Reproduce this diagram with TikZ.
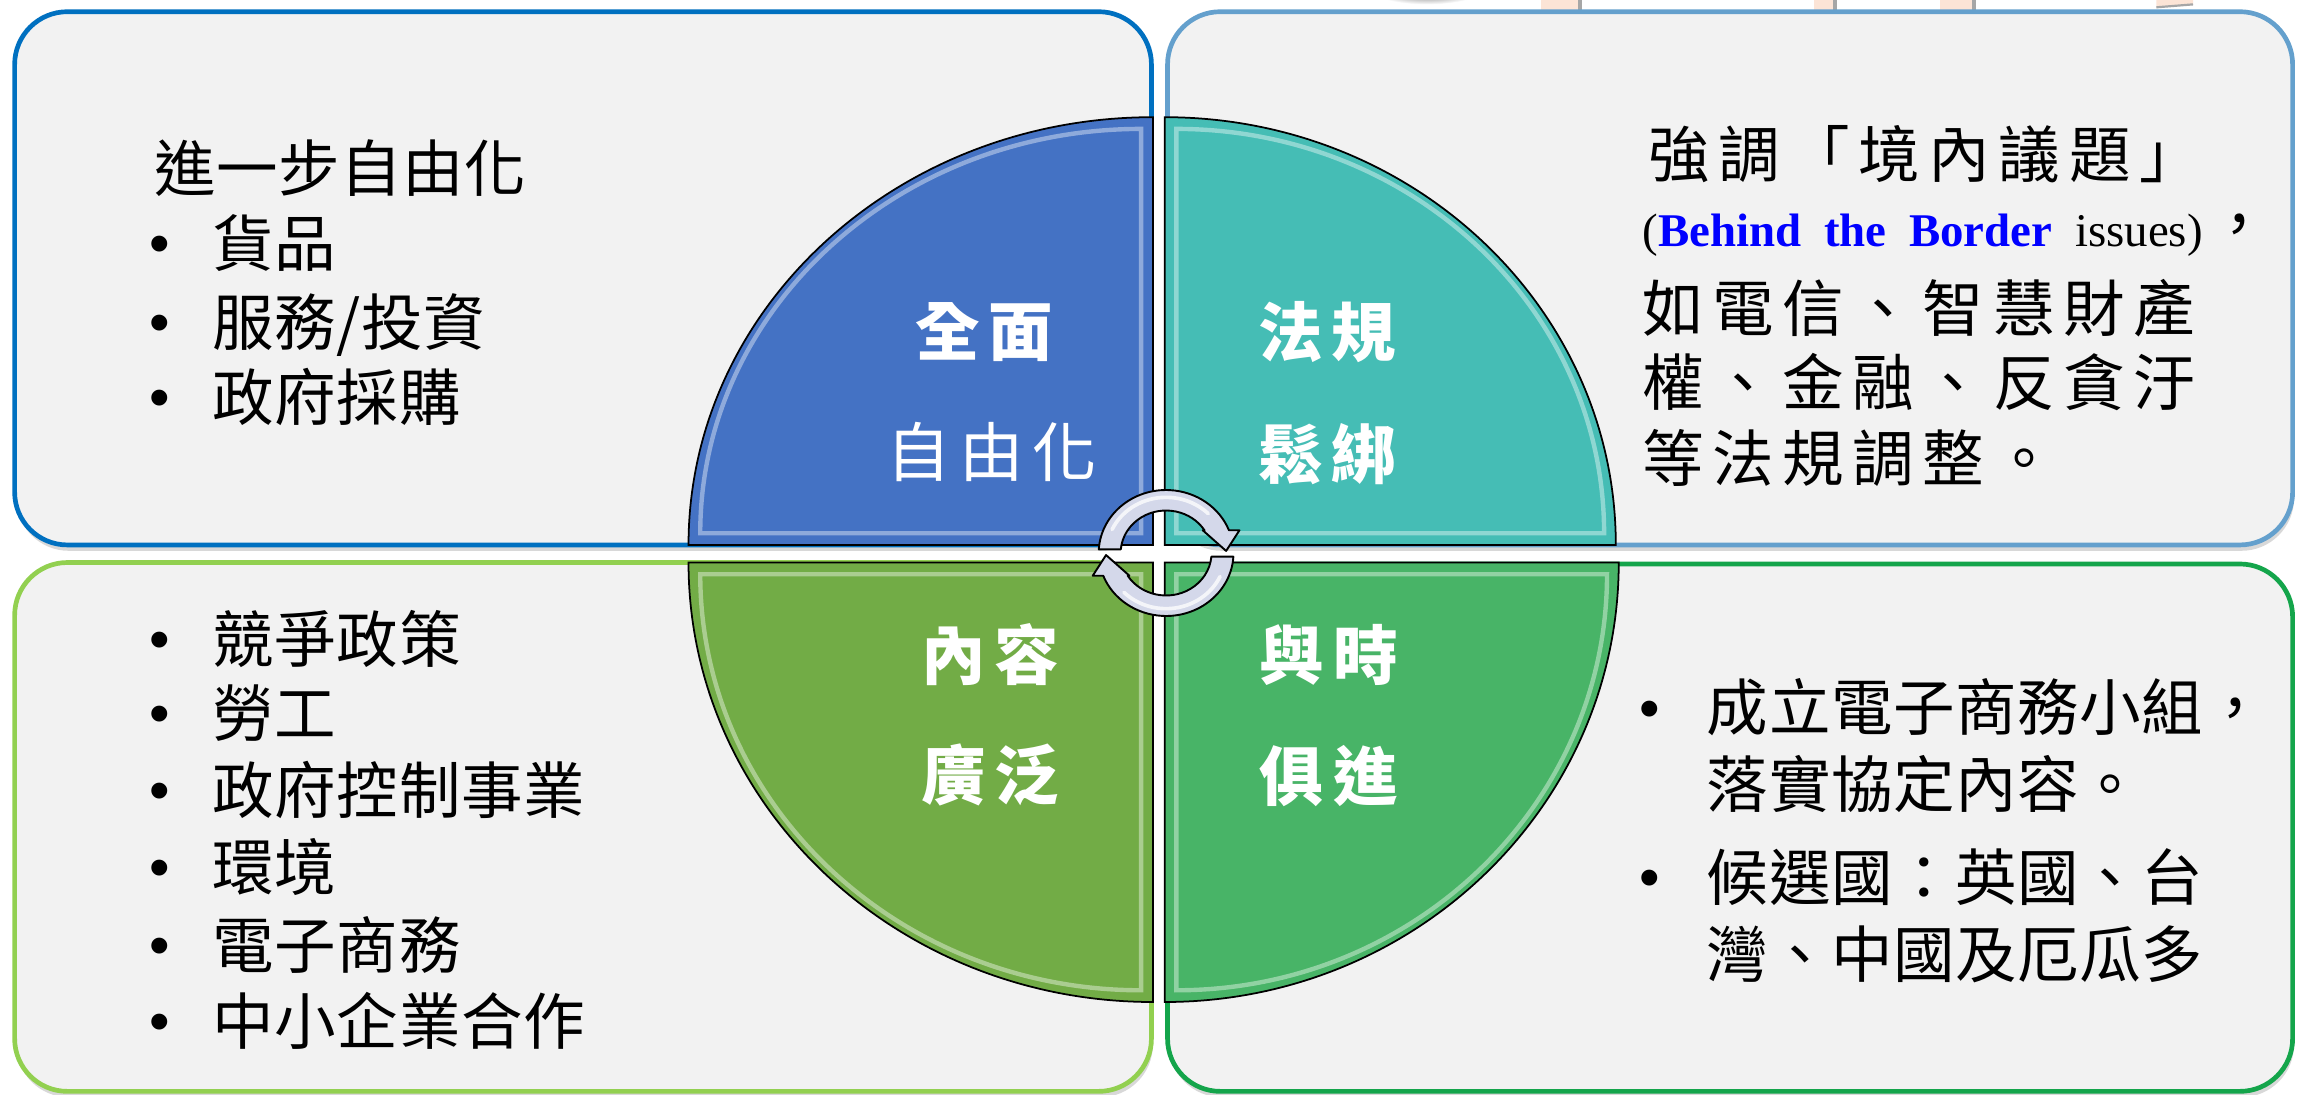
\documentclass[tikz,border=0pt]{standalone}
\usepackage{fontspec}
\setmainfont{Liberation Serif}
\newfontfamily\cjk{Noto Sans CJK TC}[LetterSpace=1]
\newfontfamily\cjkw{Noto Sans CJK TC}[LetterSpace=14]
\newfontfamily\cjklab{Noto Sans CJK TC}[LetterSpace=14]
\newfontfamily\bulfont{Liberation Sans}
\usetikzlibrary{shadows}
\definecolor{boxfill}{HTML}{F2F2F2}
\definecolor{tlb}{RGB}{0,112,192}
\definecolor{trb}{RGB}{100,160,205}
\definecolor{blb}{RGB}{146,208,80}
\definecolor{brb}{RGB}{20,165,75}
\definecolor{qblue}{RGB}{68,114,196}
\definecolor{qteal}{RGB}{69,189,181}
\definecolor{qolive}{RGB}{114,172,70}
\definecolor{qgreen}{RGB}{72,180,103}
\definecolor{ringfill}{RGB}{212,216,234}
\definecolor{blueword}{RGB}{0,0,255}
\definecolor{peach}{RGB}{252,228,214}
\begin{document}
\begin{tikzpicture}[x=1pt,y=1pt,
  box/.style={rounded corners=36pt, fill=boxfill, line width=3.2pt,
    drop shadow={shadow xshift=1pt, shadow yshift=-4pt, opacity=0.3}},
  quad/.style={draw=black, line width=1.2pt},
  bevel/.style={draw=white, line width=3pt, opacity=0.4},
  body/.style={anchor=base west, inner sep=0pt, font=\cjk\fontsize{42}{50}\selectfont},
  bodyw/.style={anchor=base west, inner sep=0pt, font=\cjkw\fontsize{42}{50}\selectfont},
  bul/.style={anchor=base, inner sep=0pt, font=\bulfont\fontsize{40}{48}\selectfont},
  lab/.style={anchor=center, inner sep=0pt, text=white, font=\cjklab\bfseries\fontsize{44}{50}\selectfont},
  labreg/.style={anchor=center, inner sep=0pt, text=white, font=\cjklab\fontsize{44}{50}\selectfont},
  ring/.style={fill=ringfill, draw=black, line width=1.3pt, line join=round},
  gloss/.style={draw=white, line width=2.5pt, opacity=0.75, line cap=round},
]
\useasboundingbox (0,0) rectangle (1568,747);
\fill[white] (0,0) rectangle (1568,747);

% fragments of a picture above
\shade[inner color=black!60, outer color=white] (974,753) ellipse [x radius=36pt, y radius=9pt];
\fill[peach] (1052,739) rectangle (1077,747);
\fill[black!35] (1077,739) rectangle (1080,747);
\fill[peach] (1238,739) rectangle (1251,747);
\fill[black!35] (1251,739) rectangle (1254,747);
\fill[peach] (1324,739) rectangle (1346,747);
\fill[black!35] (1346,739) rectangle (1349,747);
\fill[peach] (1472,742) -- (1497,744) -- (1497,747) -- (1472,747) -- cycle;
\draw[black!35, line width=1.5pt] (1472,742) -- (1497,744);

% boxes
\path[box, draw=tlb] (10,375) rectangle (786,739);
\path[box, draw=trb] (797,375) rectangle (1565,739);
\path[box, draw=blb] (10,2) rectangle (786,363);
\path[box, draw=brb] (797,2) rectangle (1565,362);

% quadrants
\filldraw[quad, fill=qblue] (787,375) -- ++(-317,0) arc[start angle=180, end angle=90, x radius=317pt, y radius=292pt] -- cycle;
\filldraw[quad, fill=qteal] (795,375) -- ++(308,0) arc[start angle=0, end angle=90, x radius=308pt, y radius=292pt] -- cycle;
\filldraw[quad, fill=qolive] (787,363) -- ++(-317,0) arc[start angle=180, end angle=270, x radius=317pt, y radius=300pt] -- cycle;
\filldraw[quad, fill=qgreen] (795,363) -- ++(310,0) arc[start angle=0, end angle=-90, x radius=310pt, y radius=300pt] -- cycle;
\draw[bevel] (779,383) -- ++(-301,0) arc[start angle=180, end angle=90, x radius=301pt, y radius=276pt] -- cycle;
\draw[bevel] (803,383) -- ++(292,0) arc[start angle=0, end angle=90, x radius=292pt, y radius=276pt] -- cycle;
\draw[bevel] (779,355) -- ++(-301,0) arc[start angle=180, end angle=270, x radius=301pt, y radius=284pt] -- cycle;
\draw[bevel] (803,355) -- ++(294,0) arc[start angle=0, end angle=-90, x radius=294pt, y radius=284pt] -- cycle;

% quadrant labels
\node[lab] (q1a) at (672,520) {全面};
\node[labreg] (q1b) at (677,438.5) {自由化};
\node[lab] (q2a) at (906,520) {法規};
\node[lab] (q2b) at (906,437) {鬆綁};
\node[lab] (q3a) at (676,300) {內容};
\node[lab] (q3b) at (676,218) {廣泛};
\node[lab] (q4a) at (907,300) {與時};
\node[lab] (q4b) at (907,217) {俱進};

% cycle arrows
\begin{scope}[shift={(796,369.5)}, xscale=1.07]
  \filldraw[ring] (176.67:43) arc[start angle=176.67, end angle=21.13, radius=43pt]
    -- (46.8,15.5) -- (38.3,1.4) -- (23.4,15.5) -- (32.3:29)
    arc[start angle=32.3, end angle=175.05, radius=29pt] -- cycle;
  \draw[gloss] (155:38) arc[start angle=155, end angle=45, radius=38pt];
  \begin{scope}[rotate=180]
    \filldraw[ring] (176.67:43) arc[start angle=176.67, end angle=21.13, radius=43pt]
      -- (46.8,15.5) -- (38.3,1.4) -- (23.4,15.5) -- (32.3:29)
      arc[start angle=32.3, end angle=175.05, radius=29pt] -- cycle;
    \draw[gloss] (155:38) arc[start angle=155, end angle=45, radius=38pt];
  \end{scope}
\end{scope}

% top-left text
\node[body] (tl0) at (105,616) {進一步自由化};
\node[bul] (tlb1) at (109,567) {•};
\node[body] (tl1) at (145,565) {貨品};
\node[bul] (tlb2) at (109,513) {•};
\node[body] (tl2) at (145,511) {服務/投資};
\node[bul] (tlb3) at (109,462) {•};
\node[body] (tl3) at (145,460) {政府採購};

% top-right text
\node[bodyw] (tr0) at (1125,626) {強調「境內議題」};
\node[anchor=base west, inner sep=0pt, font=\fontsize{32}{38}\selectfont] (tr1) at (1121,579)
  {\spaceskip=15.5pt (\textcolor{blueword}{\bfseries Behind the Border} issues)\hspace{4pt}{\cjk\fontsize{42}{50}\selectfont ，}};
\node[bodyw] (tr2) at (1121,521) {如電信、智慧財產};
\node[bodyw] (tr3) at (1121,470) {權、金融、反貪汙};
\node[bodyw] (tr4) at (1121,418) {等法規調整。};

% bottom-left text
\node[bul] (blb1) at (109,297) {•};
\node[body] (bl1) at (145,295) {競爭政策};
\node[bul] (blb2) at (109,246) {•};
\node[body] (bl2) at (145,244) {勞工};
\node[bul] (blb3) at (109,194) {•};
\node[body] (bl3) at (145,192) {政府控制事業};
\node[bul] (blb4) at (109,141) {•};
\node[body] (bl4) at (145,139) {環境};
\node[bul] (blb5) at (109,88) {•};
\node[body] (bl5) at (145,86) {電子商務};
\node[bul] (blb6) at (109,36) {•};
\node[body] (bl6) at (145,34) {中小企業合作};

% bottom-right text
\node[bul] (brb1) at (1126,250) {•};
\node[body] (br1) at (1165,248) {成立電子商務小組，};
\node[body] (br2) at (1165,196) {落實協定內容。};
\node[bul] (brb2) at (1126,134) {•};
\node[body] (br3) at (1165,132) {候選國：英國、台};
\node[body] (br4) at (1165,80) {灣、中國及厄瓜多};
\end{tikzpicture}
\end{document}
